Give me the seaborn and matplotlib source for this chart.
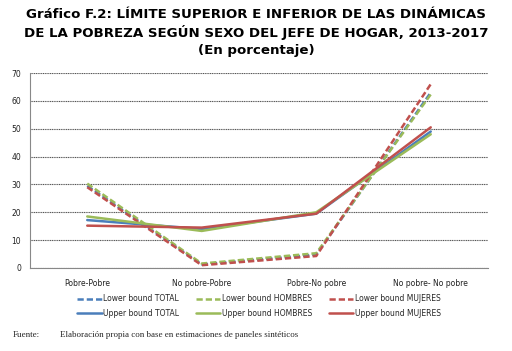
import pandas as pd
import numpy as np
import matplotlib
matplotlib.use("Agg")
import matplotlib.pyplot as plt
import seaborn as sns

# Data
categories = ["Pobre-Pobre", "No pobre-Pobre", "Pobre-No pobre", "No pobre- No pobre"]
lower_total = [29.5, 1.3, 4.8, 63.0]
lower_hombres = [30.3, 1.6, 5.3, 62.3]
lower_mujeres = [29.0, 1.0, 4.3, 66.0]
upper_total = [17.2, 14.0, 19.5, 49.0]
upper_hombres = [18.5, 13.3, 20.0, 48.0]
upper_mujeres = [15.2, 14.5, 19.5, 50.5]

series = [
    ("Lower bound TOTAL", lower_total, "#4a7ebb", (0, (2.5, 1.2))),
    ("Lower bound HOMBRES", lower_hombres, "#9bbb59", (0, (2.5, 1.2))),
    ("Lower bound MUJERES", lower_mujeres, "#c0504d", (0, (2.5, 1.2))),
    ("Upper bound TOTAL", upper_total, "#4a7ebb", "-"),
    ("Upper bound HOMBRES", upper_hombres, "#9bbb59", "-"),
    ("Upper bound MUJERES", upper_mujeres, "#c0504d", "-"),
]

sns.set_style("white")
plt.rcParams["font.family"] = ["DejaVu Sans"]

fig = plt.figure(figsize=(5.12, 3.51), dpi=100)
ax = fig.add_axes([0.0586, 0.2365, 0.8945, 0.5555])

x = np.arange(len(categories))
for name, vals, color, ls in series:
    df = pd.DataFrame({"x": x, "y": vals})
    sns.lineplot(data=df, x="x", y="y", ax=ax, color=color, linestyle=ls,
                 linewidth=1.8, label=name)

ax.set_xlim(-0.5, 3.5)
ax.set_ylim(0, 70)
ax.set_yticks(range(0, 71, 10))
ax.set_xticks(x)
ax.set_xticklabels(categories, fontsize=5.5)
ax.set_xticks([-0.5, 0.5, 1.5, 2.5, 3.5], minor=True)
ax.tick_params(axis="x", which="major", length=0, pad=8, labelcolor="#222222")
ax.tick_params(axis="x", which="minor", length=3, color="#555555")
ax.tick_params(axis="y", labelsize=5.5, length=3, color="#555555", labelcolor="#222222")
ax.set_xlabel("")
ax.set_ylabel("")
ax.yaxis.grid(True, color="#555555", linestyle=(0, (1, 0.6)), linewidth=0.8)
ax.xaxis.grid(False)
for s in ["top", "right"]:
    ax.spines[s].set_visible(False)
ax.spines["left"].set_color("#888888")
ax.spines["bottom"].set_color("#888888")
ax.spines["left"].set_linewidth(0.8)
ax.spines["bottom"].set_linewidth(0.8)

# legend fills column-wise; reorder so rows read Lower..., Upper...
handles, labels = ax.get_legend_handles_labels()
order = [0, 3, 1, 4, 2, 5]
ax.legend([handles[i] for i in order], [labels[i] for i in order], ncol=3,
          loc="upper center", bbox_to_anchor=(0.5, -0.1),
          frameon=False, fontsize=5.5, handlelength=3.2, handletextpad=0.2,
          columnspacing=2.2, labelspacing=0.7)

fig.text(0.5, 0.978, "Gráfico F.2: LÍMITE SUPERIOR E INFERIOR DE LAS DINÁMICAS\n"
         "DE LA POBREZA SEGÚN SEXO DEL JEFE DE HOGAR, 2013-2017\n(En porcentaje)",
         ha="center", va="top", fontsize=9.6, fontweight="bold", linespacing=1.38,
         color="black")
fig.text(0.025, 0.04, "Fuente:", fontsize=6.5, family="Liberation Serif")
fig.text(0.118, 0.04, "Elaboración propia con base en estimaciones de paneles sintéticos",
         fontsize=6.5, family="Liberation Serif")

fig.savefig("out.png", dpi=100)
